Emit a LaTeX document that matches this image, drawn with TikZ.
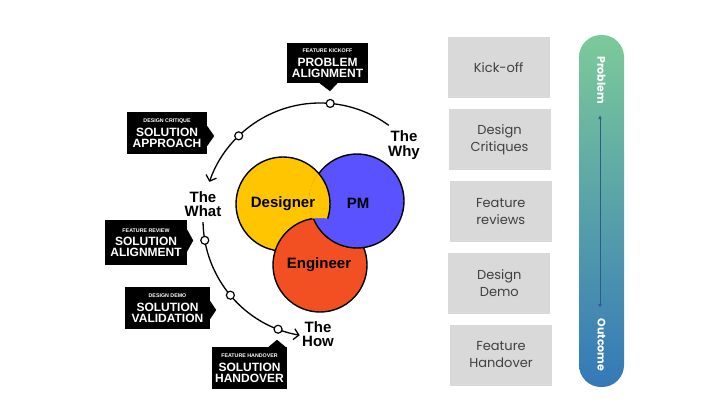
\documentclass[tikz,border=0pt]{standalone}
\usepackage{fontspec}
\setmainfont{Liberation Sans}
\newfontfamily\geo{Poppins}
\usetikzlibrary{arrows.meta,calc}
\definecolor{cyel}{HTML}{FFC600}
\definecolor{cblue}{HTML}{5A52FF}
\definecolor{corange}{HTML}{F25022}
\definecolor{cgray}{HTML}{D9D9D9}
\definecolor{ctext}{HTML}{404040}
\definecolor{bartop}{HTML}{7CCA9A}
\definecolor{barbot}{HTML}{3478B8}
\definecolor{barline}{HTML}{2B5C8C}
\begin{document}
\begin{tikzpicture}[x=1pt,y=-1pt,
  venn/.style={draw=black,line width=1.4pt},
  vennlabel/.style={font=\bfseries\fontsize{15}{15}\selectfont,text=black},
  flow/.style={draw=black,line width=1.3pt},
  flowarrow/.style={flow,-{Straight Barb[length=5pt,width=11pt,line width=1.3pt]}},
  ring/.style={circle,draw=black,fill=white,line width=1.2pt,minimum size=8pt,inner sep=0pt},
  callout/.style={fill=black,text=white,align=center,inner sep=0pt,
    font=\bfseries\fontsize{12}{11}\selectfont},
  phase/.style={font=\bfseries\fontsize{15}{14.5}\selectfont,align=center,text=black},
  graybox/.style={fill=cgray,text=ctext,align=center,minimum width=102pt,minimum height=61pt,
    inner sep=0pt,font=\geo\fontsize{13}{17}\selectfont},
  bartext/.style={text=white,font=\geo\fontsize{11}{11}\selectfont\bfseries}
]
\useasboundingbox (0,0) rectangle (728,420);
\fill[white] (0,0) rectangle (728,420);
\newcommand\smalltag[1]{{\fontsize{5.3}{6}\selectfont #1}\\[2.5pt]}

% Venn centres
\coordinate (Yc) at (283,204);
\coordinate (Bc) at (357,201);
\coordinate (Oc) at (320,265);
\def\vr{47}

\fill[cyel] (Yc) circle (\vr);
\draw[venn] (Yc) circle (\vr);
\fill[corange] (Oc) circle (\vr);
\draw[venn] (Oc) circle (\vr);
\fill[cblue] (Bc) circle (\vr);
\draw[venn] (Bc) circle (\vr);
\begin{scope}[even odd rule]
  \clip (0,0) rectangle (728,420) (Oc) circle (\vr);
  \clip (Bc) circle (\vr+1);
  \fill[cyel] (Yc) circle (\vr);
  \draw[venn] (Yc) circle (\vr);
\end{scope}

\node[vennlabel] (designer) at (283,204) {Designer};
\node[vennlabel] (pm) at (358,203) {PM};
\node[vennlabel] (engineer) at (319,265) {Engineer};

% big ring
\coordinate (C) at (320,220);
\def\R{117}
\draw[flowarrow] ($(C)+(-54:\R)$) arc[start angle=-54,end angle=-161,radius=\R];
\draw[flowarrow] ($(C)+(179:\R)$) arc[start angle=179,end angle=100,radius=\R];

\node[ring] (r1) at ($(C)+(-85:\R)$) {};
\node[ring] (r2) at ($(C)+(-134:\R)$) {};
\node[ring] (r3) at ($(C)+(170:\R)$) {};
\node[ring] (r4) at ($(C)+(140:\R)$) {};
\node[ring] (r5) at ($(C)+(111:\R)$) {};

\node[phase] (why) at (404,145) {The\\Why};
\node[phase] (what) at (203,204) {The\\What};
\node[phase] (how) at (318,334) {The\\How};

% callouts
\node[callout,minimum width=81pt,minimum height=40pt] (c1) at (327.5,63)
  {\smalltag{FEATURE KICKOFF}PROBLEM\\ALIGNMENT};
\fill[black] ($(c1.south)+(-8,0)$) -- ($(c1.south)+(10,0)$) -- ($(c1.south)+(2.5,8)$) -- cycle;

\node[callout,minimum width=80pt,minimum height=42pt] (c2) at (167,133)
  {\smalltag{DESIGN CRITIQUE}SOLUTION\\APPROACH};
\fill[black] ($(c2.east)+(0,-7)$) -- ($(c2.east)+(0,13)$) -- ($(c2.east)+(7,3)$) -- cycle;

\node[callout,minimum width=82pt,minimum height=45pt] (c3) at (146,242.5)
  {\smalltag{FEATURE REVIEW}SOLUTION\\ALIGNMENT};
\fill[black] ($(c3.east)+(0,-13)$) -- ($(c3.east)+(0,9)$) -- ($(c3.east)+(6,-2)$) -- cycle;

\node[callout,minimum width=85pt,minimum height=42pt] (c4) at (167.5,308)
  {\smalltag{DESIGN DEMO}SOLUTION\\VALIDATION};
\fill[black] ($(c4.east)+(0,-7)$) -- ($(c4.east)+(0,11)$) -- ($(c4.east)+(6,2)$) -- cycle;

\node[callout,minimum width=75pt,minimum height=42pt] (c5) at (249.5,368)
  {\smalltag{FEATURE HANDOVER}SOLUTION\\HANDOVER};
\fill[black] ($(c5.north)+(19,0)$) -- ($(c5.north)+(36,0)$) -- ($(c5.north)+(27.5,-7)$) -- cycle;

% gray boxes
\node[graybox] (k1) at (498.7,67.8) {Kick-off};
\node[graybox] (k2) at (499.5,139.7) {Design\\Critiques};
\node[graybox] (k3) at (500.8,211.7) {Feature\\reviews};
\node[graybox] (k4) at (499.3,283) {Design\\Demo};
\node[graybox] (k5) at (501,355) {Feature\\Handover};

% gradient bar
\shade[top color=bartop,bottom color=barbot,rounded corners=22pt] (579,35) rectangle (624,387);
\node[bartext,rotate=-90] (prob) at (601.5,80) {Problem};
\node[bartext,rotate=-90] (outc) at (601.5,345) {Outcome};
\coordinate (at) at (600,115);
\coordinate (ab) at (600,308);
\draw[barline,line width=0.8pt,{Latex[length=4pt,width=3.5pt]}-{Latex[length=4pt,width=3.5pt]}] (at) -- (ab);
\end{tikzpicture}
\end{document}
